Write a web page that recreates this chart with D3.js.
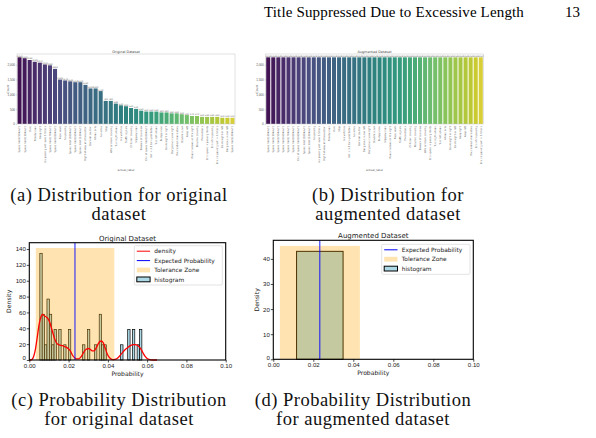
<!DOCTYPE html>
<html>
<head>
<meta charset="utf-8">
<script src="https://cdn.jsdelivr.net/npm/d3@7"></script>
<style>
  body { margin: 0; background: #fff; }
  svg { display: block; }
</style>
</head>
<body>
<div id="fig"></div>
<script>
// ---- data ----
// (a) original dataset, classes sorted by count
const origLabels = [
  'Speed limit (50km/h)', 'Speed limit (30km/h)', 'Yield', 'Priority road', 'Keep right',
  'No passing veh over 3.5 tons', 'Speed limit (70km/h)', 'Speed limit (80km/h)', 'Road work',
  'No passing', 'Speed limit (100km/h)', 'Speed limit (60km/h)', 'Speed limit (120km/h)',
  'Right-of-way at intersection', 'General caution', 'Ahead only', 'No entry', 'Stop',
  'Wild animals crossing', 'Turn right ahead', 'No vehicles', 'Traffic signals',
  'Children crossing', 'Slippery road', 'Beware of ice/snow', 'End of speed limit (80km/h)',
  'Veh > 3.5 tons prohibited', 'Turn left ahead', 'Bumpy road', 'Go straight or right',
  'Dangerous curve right', 'Roundabout mandatory', 'Double curve', 'Keep left',
  'Road narrows on the right', 'Bicycles crossing', 'Pedestrians', 'End speed + passing limits',
  'End of no passing', 'End no passing veh > 3.5 tons', 'Go straight or left',
  'Dangerous curve left', 'Speed limit (20km/h)'
];
const origCounts = [
  2250, 2220, 2160, 2100, 2070, 2010, 1980, 1860, 1500, 1470, 1440, 1410, 1410, 1320,
  1200, 1200, 1110, 780, 780, 689, 630, 600, 540, 510, 450, 420, 420, 420, 390, 390,
  360, 360, 330, 300, 270, 270, 240, 240, 240, 240, 210, 210, 210
];

// (b) augmented dataset, every class brought up to the same count
const augLabels = [
  'Speed limit (20km/h)', 'Speed limit (30km/h)', 'Speed limit (50km/h)', 'Speed limit (60km/h)',
  'Speed limit (70km/h)', 'Speed limit (80km/h)', 'End of speed limit (80km/h)',
  'Speed limit (100km/h)', 'Speed limit (120km/h)', 'No passing', 'No passing veh over 3.5 tons',
  'Right-of-way at intersection', 'Priority road', 'Yield', 'Stop', 'No vehicles',
  'Veh > 3.5 tons prohibited', 'No entry', 'General caution', 'Dangerous curve left',
  'Dangerous curve right', 'Double curve', 'Bumpy road', 'Slippery road',
  'Road narrows on the right', 'Road work', 'Traffic signals', 'Pedestrians',
  'Children crossing', 'Bicycles crossing', 'Beware of ice/snow', 'Wild animals crossing',
  'End speed + passing limits', 'Turn right ahead', 'Turn left ahead', 'Ahead only',
  'Go straight or right', 'Go straight or left', 'Keep right', 'Keep left',
  'Roundabout mandatory', 'End of no passing', 'End no passing veh > 3.5 tons'
];
const augCounts = [
  2250, 2250, 2250, 2250, 2250, 2250, 2250, 2250, 2250, 2250, 2250, 2250, 2250, 2250, 2250,
  2250, 2250, 2250, 2250, 2250, 2250, 2250, 2250, 2250, 2250, 2250, 2250, 2250, 2250, 2250,
  2250, 2250, 2250, 2250, 2250, 2250, 2250, 2250, 2250, 2250, 2250, 2250, 2250
];
const countTicks = [0, 500, 1000, 1500, 2000];
const countMax = 2362;

// (c) histogram of class probabilities, original dataset
const histStart = [
  0.00536, 0.00657, 0.00778, 0.00899, 0.0102, 0.0114, 0.0126, 0.0150, 0.0175, 0.0199,
  0.0271, 0.0296, 0.0332, 0.0356, 0.0368, 0.0380, 0.0465, 0.0501, 0.0525, 0.0549, 0.0561
];
const histDensity = [
  134.6, 57.7, 19.2, 76.9, 57.7, 19.2, 38.5, 38.5, 19.2, 38.5,
  19.2, 38.5, 19.2, 57.7, 19.2, 19.2, 19.2, 38.5, 38.5, 19.2, 38.5
];
const histWidth = 0.00121;
// kde curve
const kdeX = [
  0, 0.001, 0.002, 0.003, 0.004, 0.005, 0.006, 0.0068, 0.0078, 0.0088, 0.0098, 0.0105, 0.0112,
  0.012, 0.013, 0.014, 0.015, 0.016, 0.017, 0.018, 0.019, 0.020, 0.021, 0.022, 0.023, 0.024,
  0.025, 0.026, 0.027, 0.028, 0.029, 0.030, 0.031, 0.032, 0.033, 0.034, 0.035, 0.036, 0.0368,
  0.0378, 0.0388, 0.0398, 0.041, 0.042, 0.043, 0.044, 0.045, 0.046, 0.047, 0.048, 0.049, 0.050,
  0.051, 0.052, 0.053, 0.054, 0.055, 0.056, 0.057, 0.058, 0.059, 0.060, 0.061, 0.062, 0.063, 0.065
];
const kdeY = [
  0, 0.3, 3, 12, 28, 45, 55, 57.5, 55.5, 54, 51, 47, 41,
  34, 26, 21, 19.5, 18.5, 18, 17, 16, 14, 11, 6, 3, 1.5,
  1.5, 3, 6.5, 11, 13.5, 14.5, 13.5, 11.5, 11.5, 15, 20, 23.5, 24,
  21, 14, 7, 2.5, 0.8, 0.5, 1, 2.5, 5, 8, 11, 13.5, 15.5,
  17.5, 18.8, 19.3, 19.3, 18.8, 16.5, 13, 8.5, 4.5, 2, 0.7, 0.2, 0, 0
];

// (d) histogram of class probabilities, augmented dataset
const augHistStart = [0.01163];
const augHistDensity = [43.0];
const augHistWidth = 0.02326;

const expectedProb = 0.02326;
const toleranceZone = [0.0033, 0.0433];
const probTicks = [0, 0.02, 0.04, 0.06, 0.08, 0.10];

// ---- layout ----
const width = 596;
const height = 438;
const serif = '"Liberation Serif", "DejaVu Serif", serif';
const sans = '"DejaVu Sans", sans-serif';

const svg = d3.select('#fig').append('svg')
  .attr('width', width)
  .attr('height', height)
  .style('font-family', sans);

svg.append('rect').attr('width', width).attr('height', height).attr('fill', '#fff');

// running header
svg.append('text')
  .attr('x', 524).attr('y', 17)
  .attr('text-anchor', 'end')
  .style('font-family', serif).style('font-size', '15px').style('letter-spacing', '0.15px')
  .text('Title Suppressed Due to Excessive Length');
svg.append('text')
  .attr('x', 580).attr('y', 17)
  .attr('text-anchor', 'end')
  .style('font-family', serif).style('font-size', '15px')
  .text('13');

const drawBars = (box, labels, counts, title) => {
  const g = svg.append('g');
  const x = d3.scaleBand().domain(labels).range([box.x0, box.x1]).paddingInner(0.2).paddingOuter(0.1);
  const y = d3.scaleLinear().domain([0, countMax]).range([box.y1, box.y0]);
  const n = labels.length;
  const colour = (i) => {
    const c = d3.hsl(d3.interpolateViridis((i + 1) / (n + 1)));
    c.s *= 0.75; // seaborn saturation
    return c.formatHex();
  };

  g.selectAll('.bar')
    .data(labels)
    .enter()
    .append('rect')
    .attr('class', 'bar')
    .attr('x', d => x(d))
    .attr('width', x.bandwidth())
    .attr('y', (d, i) => y(counts[i]))
    .attr('height', (d, i) => y(0) - y(counts[i]))
    .attr('fill', (d, i) => colour(i));

  g.selectAll('.val')
    .data(labels)
    .enter()
    .append('text')
    .attr('class', 'val')
    .attr('x', d => x(d) + x.bandwidth() / 2)
    .attr('y', (d, i) => y(counts[i]) - 0.6)
    .attr('text-anchor', 'middle')
    .style('font-size', '2.2px')
    .attr('fill', '#666')
    .text((d, i) => counts[i]);

  g.append('rect')
    .attr('x', box.x0).attr('y', box.y0)
    .attr('width', box.x1 - box.x0).attr('height', box.y1 - box.y0)
    .attr('fill', 'none').attr('stroke', '#c4c4c4').attr('stroke-width', 0.5);

  const yAxis = g.append('g')
    .attr('transform', `translate(${box.x0},0)`)
    .call(d3.axisLeft(y).tickValues(countTicks).tickSize(1.2).tickPadding(0.8));
  yAxis.select('.domain').remove();
  yAxis.selectAll('.tick line').attr('stroke', '#888').attr('stroke-width', 0.3);
  yAxis.selectAll('.tick text').style('font-size', '3px').attr('fill', '#555');

  g.selectAll('.cat')
    .data(labels)
    .enter()
    .append('text')
    .attr('class', 'cat')
    .attr('transform', d => `translate(${x(d) + x.bandwidth() / 2 + 0.9},${box.y1 + 2}) rotate(-90)`)
    .attr('text-anchor', 'end')
    .style('font-size', '2.5px')
    .attr('fill', '#555')
    .text(d => d);

  g.append('text')
    .attr('x', (box.x0 + box.x1) / 2).attr('y', box.y0 - 1.2)
    .attr('text-anchor', 'middle')
    .style('font-size', '3.4px').attr('fill', '#444')
    .text(title);

  g.append('text')
    .attr('x', (box.x0 + box.x1) / 2).attr('y', 171)
    .attr('text-anchor', 'middle')
    .style('font-size', '2.8px').attr('fill', '#555')
    .text('actual_label');

  g.append('text')
    .attr('transform', `translate(${box.x0 - 8},${(box.y0 + box.y1) / 2}) rotate(-90)`)
    .attr('text-anchor', 'middle')
    .style('font-size', '3px').attr('fill', '#555')
    .text('Count');
};

drawBars({x0: 17, x1: 235, y0: 54, y1: 124}, origLabels, origCounts, 'Original Dataset');
drawBars({x0: 265.7, x1: 483.3, y0: 54, y1: 124}, augLabels, augCounts, 'Augmented Dataset');

const drawHist = (box, opt) => {
  const g = svg.append('g');
  const x = d3.scaleLinear().domain([0, 0.1]).range([box.x0, box.x1]);
  const y = d3.scaleLinear().domain([0, opt.yMax]).range([box.y1, box.y0]);

  g.selectAll('.hbar')
    .data(opt.starts)
    .enter()
    .append('rect')
    .attr('class', 'hbar')
    .attr('x', d => x(d))
    .attr('width', x(opt.binW) - x(0))
    .attr('y', (d, i) => y(opt.dens[i]))
    .attr('height', (d, i) => y(0) - y(opt.dens[i]))
    .attr('fill', '#add8e6')
    .attr('stroke', '#000')
    .attr('stroke-width', opt.barStroke);

  g.append('rect')
    .attr('x', x(toleranceZone[0]))
    .attr('width', x(toleranceZone[1]) - x(toleranceZone[0]))
    .attr('y', y(opt.zoneTop))
    .attr('height', y(0) - y(opt.zoneTop))
    .attr('fill', 'orange')
    .attr('fill-opacity', 0.3);

  if (opt.kde) {
    g.append('path')
      .datum(kdeX)
      .attr('d', d3.line().x(d => x(d)).y((d, i) => y(kdeY[i])).curve(d3.curveMonotoneX))
      .attr('fill', 'none')
      .attr('stroke', 'red')
      .attr('stroke-width', 1.3);
  }

  g.append('line')
    .attr('x1', x(expectedProb)).attr('x2', x(expectedProb))
    .attr('y1', box.y0).attr('y2', box.y1)
    .attr('stroke', 'blue').attr('stroke-width', 0.9);

  const xAxis = g.append('g')
    .attr('transform', `translate(0,${box.y1})`)
    .call(d3.axisBottom(x).tickValues(probTicks).tickFormat(d3.format('.2f')).tickSize(2.5).tickPadding(1.3));
  xAxis.select('.domain').remove();
  xAxis.selectAll('.tick line').attr('stroke-width', 0.7);
  xAxis.selectAll('.tick text').style('font-size', '6.1px').attr('fill', '#222');

  const yAxis = g.append('g')
    .attr('transform', `translate(${box.x0},0)`)
    .call(d3.axisLeft(y).tickValues(opt.yTicks).tickSize(2.5).tickPadding(1));
  yAxis.select('.domain').remove();
  yAxis.selectAll('.tick line').attr('stroke-width', 0.7);
  yAxis.selectAll('.tick text').style('font-size', '6.1px').attr('fill', '#222');
  // lift the zero label a touch so it clears the x tick label below it
  yAxis.selectAll('.tick text').filter(d => d === 0).attr('dy', '-0.05em');

  g.append('rect')
    .attr('x', box.x0).attr('y', box.y0)
    .attr('width', box.x1 - box.x0).attr('height', box.y1 - box.y0)
    .attr('fill', 'none').attr('stroke', '#000').attr('stroke-width', 1.1);

  g.append('text')
    .attr('x', (box.x0 + box.x1) / 2).attr('y', box.y0 - 2.2)
    .attr('text-anchor', 'middle')
    .style('font-size', '7px').attr('fill', '#222')
    .text(opt.title);

  g.append('text')
    .attr('x', (box.x0 + box.x1) / 2).attr('y', box.y1 + 16)
    .attr('text-anchor', 'middle')
    .style('font-size', '6.1px').attr('fill', '#222')
    .text('Probability');

  g.append('text')
    .attr('transform', `translate(${opt.yLabelX},${(box.y0 + box.y1) / 2}) rotate(-90)`)
    .attr('text-anchor', 'middle')
    .style('font-size', '6.1px').attr('fill', '#222')
    .text('Density');

  // legend
  const lg = g.append('g');
  lg.append('rect')
    .attr('x', opt.legend.x0).attr('y', opt.legend.y0)
    .attr('width', opt.legend.w).attr('height', opt.legend.h)
    .attr('rx', 1.2)
    .attr('fill', '#fff').attr('fill-opacity', 0.85)
    .attr('stroke', '#d0d0d0').attr('stroke-width', 0.6);
  opt.legend.items.forEach((it, i) => {
    const cy = opt.legend.y0 + 5.5 + i * 9.4;
    const hx = opt.legend.x0 + 2.5;
    if (it.type === 'line') {
      lg.append('line')
        .attr('x1', hx).attr('x2', hx + 13.3)
        .attr('y1', cy).attr('y2', cy)
        .attr('stroke', it.color).attr('stroke-width', 1);
    } else if (it.type === 'zone') {
      lg.append('rect')
        .attr('x', hx).attr('y', cy - 2.4).attr('width', 13.3).attr('height', 4.8)
        .attr('fill', 'orange').attr('fill-opacity', 0.3);
    } else {
      lg.append('rect')
        .attr('x', hx).attr('y', cy - 2.4).attr('width', 13.3).attr('height', 4.8)
        .attr('fill', '#add8e6').attr('stroke', '#000').attr('stroke-width', 1);
    }
    lg.append('text')
      .attr('x', hx + 17.5).attr('y', cy + 2.1)
      .style('font-size', '5.9px').attr('fill', '#222')
      .text(it.label);
  });
};

drawHist({x0: 29.3, x1: 225.7, y0: 242.7, y1: 360}, {
  starts: histStart, dens: histDensity, binW: histWidth, barStroke: 0.7,
  yMax: 148, zoneTop: 141.3, yTicks: [0, 20, 40, 60, 80, 100, 120, 140],
  kde: true, title: 'Original Dataset', yLabelX: 10.7,
  legend: {x0: 134.3, y0: 245.7, w: 88, h: 39.3, items: [
    {type: 'line', color: 'red', label: 'density'},
    {type: 'line', color: 'blue', label: 'Expected Probability'},
    {type: 'zone', label: 'Tolerance Zone'},
    {type: 'hist', label: 'histogram'}
  ]}
});

drawHist({x0: 273.3, x1: 473.3, y0: 240.3, y1: 359.3}, {
  starts: augHistStart, dens: augHistDensity, binW: augHistWidth, barStroke: 1,
  yMax: 47.4, zoneTop: 45.2, yTicks: [0, 10, 20, 30, 40],
  kde: false, title: 'Augmented Dataset', yLabelX: 258.5,
  legend: {x0: 381.7, y0: 244.3, w: 88.3, h: 30, items: [
    {type: 'line', color: 'blue', label: 'Expected Probability'},
    {type: 'zone', label: 'Tolerance Zone'},
    {type: 'hist', label: 'histogram'}
  ]}
});

// sub-captions
const captions = [
  {x: 119, y: 201, lines: ['(a) Distribution for original', 'dataset']},
  {x: 388, y: 201, lines: ['(b) Distribution for', 'augmented dataset']},
  {x: 119, y: 406, lines: ['(c) Probability Distribution', 'for original dataset']},
  {x: 363, y: 406, lines: ['(d) Probability Distribution', 'for augmented dataset']}
];
captions.forEach(c => {
  c.lines.forEach((t, i) => {
    svg.append('text')
      .attr('x', c.x).attr('y', c.y + i * 19)
      .attr('text-anchor', 'middle')
      .style('font-family', serif).style('font-size', '18.5px')
      .style('letter-spacing', '0.5px').attr('fill', '#111')
      .text(t);
  });
});
</script>
</body>
</html>
